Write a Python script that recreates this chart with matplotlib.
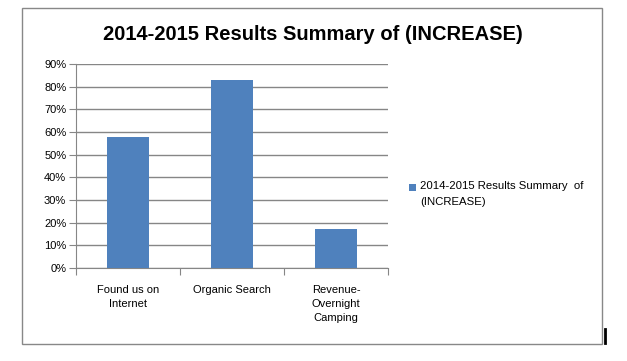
import numpy as np
import matplotlib.pyplot as plt
from matplotlib.patches import Rectangle
from matplotlib.lines import Line2D
from matplotlib.ticker import PercentFormatter

categories = ["Found us on\nInternet", "Organic Search", "Revenue-\nOvernight\nCamping"]
values = [58, 83, 17]
series_name = "2014-2015 Results Summary  of\n(INCREASE)"
title = "2014-2015 Results Summary of (INCREASE)"

BAR = "#4F81BD"
GRID = "#868686"

plt.rcParams.update({
    "font.family": ["Liberation Sans", "DejaVu Sans"],
    "font.size": 8,
})

fig = plt.figure(figsize=(6.27, 3.61), dpi=100)
fig.patch.set_facecolor("white")


def fx(px):
    return px / 627


def fy(py):
    return 1 - py / 361


# outer chart border
fig.patches.append(Rectangle((fx(22), fy(344)), 580 / 627, 336 / 361,
                             transform=fig.transFigure, fill=False,
                             edgecolor="#888888", linewidth=1.0))
# small cursor mark at bottom right
fig.lines.append(Line2D([fx(605), fx(605)], [fy(343), fy(329)],
                        transform=fig.transFigure, color="black", linewidth=2))

ax = fig.add_axes([fx(76), fy(268), 312 / 627, 204 / 361])

x = np.arange(len(categories))
ax.bar(x, values, width=0.4, color=BAR, zorder=3)

ax.set_xlim(-0.5, len(categories) - 0.5)
ax.set_ylim(0, 90)
ax.set_yticks(np.arange(0, 91, 10))
ax.yaxis.set_major_formatter(PercentFormatter(decimals=0))
ax.yaxis.grid(True, color=GRID, linewidth=1.0, zorder=0)

ax.set_xticks(np.arange(-0.5, len(categories), 1.0))
ax.set_xticklabels([])
ax.set_xticks(x, minor=True)
ax.set_xticklabels(categories, minor=True, fontsize=8, va="top", linespacing=1.5)
ax.tick_params(axis="x", which="minor", length=0, pad=12)
ax.tick_params(axis="x", which="major", length=5, color=GRID, direction="out")
ax.tick_params(axis="y", length=5, color=GRID, direction="out", labelsize=8, pad=2)

for side in ["top", "right"]:
    ax.spines[side].set_visible(False)
ax.spines["left"].set_color(GRID)
ax.spines["bottom"].set_color(GRID)

fig.text(fx(313), fy(34), title, ha="center", va="center",
         fontsize=14.5, fontweight="bold")

# legend: square key aligned with the first text line
fig.patches.append(Rectangle((fx(409), fy(191)), 7 / 627, 7 / 361,
                             transform=fig.transFigure, facecolor=BAR,
                             edgecolor="none"))
fig.text(fx(420), fy(181), series_name, ha="left", va="top",
         fontsize=8.2, linespacing=1.8)

fig.savefig("out.png", dpi=100)
